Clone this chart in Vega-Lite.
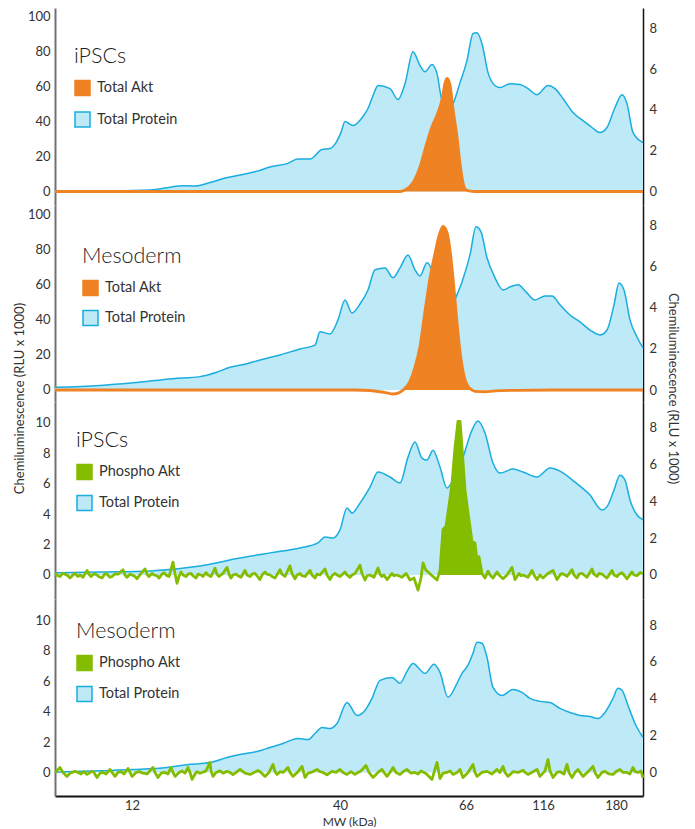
{
  "$schema": "https://vega.github.io/schema/vega-lite/v6.json",
  "background": "white",
  "padding": {"left": 13, "top": 8, "right": 5, "bottom": 0},
  "config": {
    "font": "Lato",
    "view": {"stroke": null},
    "axis": {"grid": false, "ticks": false, "labelFont": "Lato", "labelFontSize": 13, "labelColor": "#333333", "titleFont": "Lato", "titleFontSize": 13, "titleFontWeight": "normal", "titleColor": "#333333"},
    "legend": {"padding": 0, "labelFont": "Lato", "labelFontSize": 14.5, "labelColor": "#333333", "titleFont": "Lato", "titleFontSize": 21.5, "titleFontWeight": 300, "titleColor": "#222222", "titlePadding": 12, "rowPadding": 10, "labelOffset": 6, "labelLimit": 300, "titleLimit": 300}
  },
  "datasets": {
    "protein_ipsc_total": [
      {"mig": 0, "rlu": 0.03}, {"mig": 45, "rlu": 0.03}, {"mig": 95, "rlu": 0.08}, {"mig": 115, "rlu": 0.21}, {"mig": 127, "rlu": 0.29}, {"mig": 140, "rlu": 0.27}, {"mig": 155, "rlu": 0.44}, {"mig": 170, "rlu": 0.66}, {"mig": 185, "rlu": 0.81}, {"mig": 202, "rlu": 1.0}, {"mig": 215, "rlu": 1.2}, {"mig": 232, "rlu": 1.37}, {"mig": 243, "rlu": 1.59}, {"mig": 255, "rlu": 1.59}, {"mig": 267, "rlu": 2.06}, {"mig": 275, "rlu": 2.11}, {"mig": 281, "rlu": 2.4}, {"mig": 286, "rlu": 2.9}, {"mig": 290, "rlu": 3.43}, {"mig": 298, "rlu": 3.24}, {"mig": 308, "rlu": 3.68}, {"mig": 313, "rlu": 4.07}, {"mig": 318, "rlu": 4.7}, {"mig": 323, "rlu": 5.2}, {"mig": 335, "rlu": 5.05}, {"mig": 343, "rlu": 4.51}, {"mig": 350, "rlu": 5.29}, {"mig": 358, "rlu": 6.86}, {"mig": 365, "rlu": 6.18}, {"mig": 370, "rlu": 5.88}, {"mig": 377, "rlu": 6.23}, {"mig": 382, "rlu": 5.78}, {"mig": 387, "rlu": 4.46}, {"mig": 393, "rlu": 4.07}, {"mig": 398, "rlu": 4.31}, {"mig": 405, "rlu": 5.34}, {"mig": 412, "rlu": 6.42}, {"mig": 418, "rlu": 7.75}, {"mig": 422, "rlu": 7.79}, {"mig": 427, "rlu": 7.25}, {"mig": 433, "rlu": 5.83}, {"mig": 440, "rlu": 5.2}, {"mig": 445, "rlu": 5.1}, {"mig": 455, "rlu": 5.29}, {"mig": 465, "rlu": 5.25}, {"mig": 473, "rlu": 5.05}, {"mig": 482, "rlu": 4.75}, {"mig": 493, "rlu": 5.2}, {"mig": 500, "rlu": 5.05}, {"mig": 508, "rlu": 4.56}, {"mig": 518, "rlu": 3.87}, {"mig": 528, "rlu": 3.48}, {"mig": 537, "rlu": 3.14}, {"mig": 545, "rlu": 2.89}, {"mig": 552, "rlu": 3.14}, {"mig": 560, "rlu": 4.12}, {"mig": 567, "rlu": 4.75}, {"mig": 572, "rlu": 4.31}, {"mig": 578, "rlu": 2.89}, {"mig": 588, "rlu": 2.4}
    ],
    "akt_ipsc": [
      {"mig": 0, "rlu": 0}, {"mig": 60, "rlu": 0}, {"mig": 120, "rlu": 0}, {"mig": 180, "rlu": 0}, {"mig": 240, "rlu": 0}, {"mig": 300, "rlu": 0}, {"mig": 345, "rlu": 0}, {"mig": 350, "rlu": 0.8}, {"mig": 358, "rlu": 5}, {"mig": 365, "rlu": 14}, {"mig": 372, "rlu": 28}, {"mig": 377, "rlu": 37}, {"mig": 383, "rlu": 45}, {"mig": 387, "rlu": 52.6}, {"mig": 390, "rlu": 62}, {"mig": 392, "rlu": 64.6}, {"mig": 395, "rlu": 61}, {"mig": 398, "rlu": 47}, {"mig": 402, "rlu": 31.4}, {"mig": 405, "rlu": 16}, {"mig": 408, "rlu": 5}, {"mig": 410, "rlu": 1.5}, {"mig": 414, "rlu": 0.3}, {"mig": 420, "rlu": 0}, {"mig": 480, "rlu": 0}, {"mig": 540, "rlu": 0}, {"mig": 588, "rlu": 0}
    ],
    "protein_meso_total": [
      {"mig": 0, "rlu": 0.13}, {"mig": 45, "rlu": 0.22}, {"mig": 78, "rlu": 0.35}, {"mig": 118, "rlu": 0.55}, {"mig": 145, "rlu": 0.65}, {"mig": 162, "rlu": 0.87}, {"mig": 175, "rlu": 1.1}, {"mig": 190, "rlu": 1.25}, {"mig": 205, "rlu": 1.46}, {"mig": 225, "rlu": 1.7}, {"mig": 245, "rlu": 1.99}, {"mig": 260, "rlu": 2.18}, {"mig": 265, "rlu": 2.82}, {"mig": 275, "rlu": 2.72}, {"mig": 283, "rlu": 3.4}, {"mig": 290, "rlu": 4.37}, {"mig": 297, "rlu": 3.74}, {"mig": 305, "rlu": 4.17}, {"mig": 313, "rlu": 4.85}, {"mig": 320, "rlu": 5.83}, {"mig": 330, "rlu": 5.92}, {"mig": 338, "rlu": 5.44}, {"mig": 345, "rlu": 5.92}, {"mig": 353, "rlu": 6.55}, {"mig": 360, "rlu": 5.83}, {"mig": 365, "rlu": 5.53}, {"mig": 372, "rlu": 6.17}, {"mig": 377, "rlu": 5.73}, {"mig": 382, "rlu": 4.37}, {"mig": 387, "rlu": 3.59}, {"mig": 393, "rlu": 3.4}, {"mig": 400, "rlu": 4.37}, {"mig": 407, "rlu": 5.24}, {"mig": 415, "rlu": 6.55}, {"mig": 421, "rlu": 7.91}, {"mig": 426, "rlu": 7.67}, {"mig": 432, "rlu": 6.41}, {"mig": 440, "rlu": 5.44}, {"mig": 448, "rlu": 4.85}, {"mig": 455, "rlu": 5.0}, {"mig": 463, "rlu": 5.1}, {"mig": 471, "rlu": 4.76}, {"mig": 480, "rlu": 4.37}, {"mig": 490, "rlu": 4.56}, {"mig": 497, "rlu": 4.56}, {"mig": 505, "rlu": 4.13}, {"mig": 515, "rlu": 3.64}, {"mig": 525, "rlu": 3.3}, {"mig": 535, "rlu": 2.91}, {"mig": 545, "rlu": 2.67}, {"mig": 552, "rlu": 2.91}, {"mig": 559, "rlu": 4.13}, {"mig": 564, "rlu": 5.19}, {"mig": 569, "rlu": 4.85}, {"mig": 575, "rlu": 3.4}, {"mig": 582, "rlu": 2.57}, {"mig": 588, "rlu": 2.04}
    ],
    "akt_meso": [
      {"mig": 0, "rlu": 0}, {"mig": 60, "rlu": 0}, {"mig": 120, "rlu": 0}, {"mig": 180, "rlu": 0}, {"mig": 240, "rlu": 0}, {"mig": 300, "rlu": 0}, {"mig": 315, "rlu": -0.3}, {"mig": 325, "rlu": -1.0}, {"mig": 333, "rlu": -1.8}, {"mig": 338, "rlu": -2.3}, {"mig": 343, "rlu": -1.8}, {"mig": 347, "rlu": -0.5}, {"mig": 350, "rlu": 1}, {"mig": 355, "rlu": 5}, {"mig": 360, "rlu": 13}, {"mig": 365, "rlu": 25}, {"mig": 370, "rlu": 45}, {"mig": 375, "rlu": 64}, {"mig": 380, "rlu": 78}, {"mig": 384, "rlu": 88}, {"mig": 388, "rlu": 93.5}, {"mig": 392, "rlu": 90}, {"mig": 395, "rlu": 80}, {"mig": 398, "rlu": 64}, {"mig": 401, "rlu": 45}, {"mig": 404, "rlu": 27}, {"mig": 407, "rlu": 14}, {"mig": 410, "rlu": 6}, {"mig": 413, "rlu": 2}, {"mig": 417, "rlu": 0}, {"mig": 420, "rlu": -0.8}, {"mig": 430, "rlu": -1.0}, {"mig": 440, "rlu": -0.5}, {"mig": 460, "rlu": -0.2}, {"mig": 500, "rlu": 0}, {"mig": 550, "rlu": 0}, {"mig": 588, "rlu": 0}
    ],
    "protein_ipsc_phospho": [
      {"mig": 0, "rlu": 0.11}, {"mig": 45, "rlu": 0.16}, {"mig": 95, "rlu": 0.22}, {"mig": 145, "rlu": 0.49}, {"mig": 185, "rlu": 0.92}, {"mig": 215, "rlu": 1.2}, {"mig": 245, "rlu": 1.47}, {"mig": 263, "rlu": 1.74}, {"mig": 270, "rlu": 2.07}, {"mig": 278, "rlu": 2.01}, {"mig": 285, "rlu": 2.45}, {"mig": 292, "rlu": 3.64}, {"mig": 297, "rlu": 3.37}, {"mig": 305, "rlu": 3.91}, {"mig": 315, "rlu": 4.78}, {"mig": 323, "rlu": 5.6}, {"mig": 335, "rlu": 5.33}, {"mig": 345, "rlu": 5.0}, {"mig": 353, "rlu": 6.41}, {"mig": 360, "rlu": 7.23}, {"mig": 367, "rlu": 6.36}, {"mig": 372, "rlu": 6.25}, {"mig": 378, "rlu": 6.79}, {"mig": 385, "rlu": 5.87}, {"mig": 392, "rlu": 4.73}, {"mig": 398, "rlu": 5.16}, {"mig": 408, "rlu": 6.41}, {"mig": 417, "rlu": 7.88}, {"mig": 423, "rlu": 8.37}, {"mig": 430, "rlu": 7.72}, {"mig": 438, "rlu": 6.09}, {"mig": 445, "rlu": 5.54}, {"mig": 458, "rlu": 5.76}, {"mig": 468, "rlu": 5.6}, {"mig": 482, "rlu": 5.33}, {"mig": 495, "rlu": 5.82}, {"mig": 505, "rlu": 5.65}, {"mig": 520, "rlu": 5.05}, {"mig": 535, "rlu": 4.35}, {"mig": 547, "rlu": 3.53}, {"mig": 553, "rlu": 3.8}, {"mig": 559, "rlu": 4.62}, {"mig": 565, "rlu": 5.43}, {"mig": 570, "rlu": 5.16}, {"mig": 575, "rlu": 4.08}, {"mig": 582, "rlu": 3.26}, {"mig": 588, "rlu": 3.0}
    ],
    "pakt_ipsc": [
      {"mig": 0, "rlu": 0.1}, {"mig": 3, "rlu": -0.05}, {"mig": 5, "rlu": -0.1}, {"mig": 8, "rlu": 0.12}, {"mig": 10, "rlu": 0.05}, {"mig": 13, "rlu": -0.05}, {"mig": 15, "rlu": -0.2}, {"mig": 18, "rlu": 0.0}, {"mig": 20, "rlu": 0.1}, {"mig": 23, "rlu": -0.1}, {"mig": 25, "rlu": 0.0}, {"mig": 28, "rlu": -0.15}, {"mig": 32, "rlu": 0.3}, {"mig": 34, "rlu": 0.05}, {"mig": 36, "rlu": -0.1}, {"mig": 39, "rlu": 0.08}, {"mig": 42, "rlu": 0.0}, {"mig": 44, "rlu": -0.12}, {"mig": 47, "rlu": -0.2}, {"mig": 50, "rlu": 0.1}, {"mig": 52, "rlu": 0.05}, {"mig": 55, "rlu": -0.15}, {"mig": 57, "rlu": -0.1}, {"mig": 60, "rlu": 0.08}, {"mig": 63, "rlu": 0.05}, {"mig": 68, "rlu": 0.35}, {"mig": 70, "rlu": 0.0}, {"mig": 72, "rlu": -0.15}, {"mig": 75, "rlu": 0.05}, {"mig": 77, "rlu": 0.0}, {"mig": 80, "rlu": -0.1}, {"mig": 82, "rlu": -0.25}, {"mig": 86, "rlu": 0.1}, {"mig": 90, "rlu": 0.4}, {"mig": 92, "rlu": 0.05}, {"mig": 94, "rlu": -0.1}, {"mig": 97, "rlu": 0.1}, {"mig": 99, "rlu": 0.0}, {"mig": 102, "rlu": -0.05}, {"mig": 104, "rlu": -0.2}, {"mig": 107, "rlu": 0.05}, {"mig": 109, "rlu": 0.15}, {"mig": 112, "rlu": -0.05}, {"mig": 114, "rlu": -0.1}, {"mig": 118, "rlu": 0.85}, {"mig": 120, "rlu": 0.1}, {"mig": 122, "rlu": -0.55}, {"mig": 124, "rlu": -0.1}, {"mig": 126, "rlu": 0.2}, {"mig": 128, "rlu": 0.0}, {"mig": 131, "rlu": -0.1}, {"mig": 133, "rlu": 0.05}, {"mig": 136, "rlu": 0.1}, {"mig": 138, "rlu": -0.05}, {"mig": 141, "rlu": -0.2}, {"mig": 143, "rlu": 0.05}, {"mig": 146, "rlu": 0.0}, {"mig": 148, "rlu": -0.1}, {"mig": 151, "rlu": 0.15}, {"mig": 153, "rlu": 0.0}, {"mig": 156, "rlu": -0.1}, {"mig": 160, "rlu": 0.45}, {"mig": 162, "rlu": 0.05}, {"mig": 164, "rlu": -0.1}, {"mig": 166, "rlu": 0.0}, {"mig": 168, "rlu": 0.1}, {"mig": 172, "rlu": 0.5}, {"mig": 174, "rlu": 0.05}, {"mig": 176, "rlu": -0.2}, {"mig": 178, "rlu": 0.0}, {"mig": 181, "rlu": 0.05}, {"mig": 183, "rlu": -0.05}, {"mig": 186, "rlu": -0.15}, {"mig": 190, "rlu": 0.3}, {"mig": 192, "rlu": 0.0}, {"mig": 195, "rlu": -0.1}, {"mig": 197, "rlu": 0.05}, {"mig": 200, "rlu": 0.1}, {"mig": 202, "rlu": -0.05}, {"mig": 205, "rlu": -0.3}, {"mig": 207, "rlu": 0.0}, {"mig": 210, "rlu": 0.2}, {"mig": 212, "rlu": 0.05}, {"mig": 215, "rlu": 0.0}, {"mig": 217, "rlu": -0.1}, {"mig": 220, "rlu": -0.2}, {"mig": 225, "rlu": 0.35}, {"mig": 227, "rlu": 0.05}, {"mig": 230, "rlu": -0.1}, {"mig": 235, "rlu": 0.6}, {"mig": 237, "rlu": 0.1}, {"mig": 240, "rlu": -0.25}, {"mig": 242, "rlu": 0.0}, {"mig": 245, "rlu": 0.1}, {"mig": 247, "rlu": -0.05}, {"mig": 250, "rlu": -0.1}, {"mig": 255, "rlu": 0.3}, {"mig": 257, "rlu": 0.0}, {"mig": 260, "rlu": -0.2}, {"mig": 262, "rlu": 0.05}, {"mig": 265, "rlu": 0.0}, {"mig": 270, "rlu": 0.4}, {"mig": 272, "rlu": 0.0}, {"mig": 275, "rlu": -0.3}, {"mig": 277, "rlu": -0.05}, {"mig": 280, "rlu": 0.1}, {"mig": 282, "rlu": 0.0}, {"mig": 285, "rlu": -0.1}, {"mig": 290, "rlu": 0.2}, {"mig": 292, "rlu": 0.0}, {"mig": 295, "rlu": -0.15}, {"mig": 297, "rlu": 0.0}, {"mig": 300, "rlu": 0.1}, {"mig": 305, "rlu": 0.65}, {"mig": 307, "rlu": 0.1}, {"mig": 310, "rlu": -0.33}, {"mig": 312, "rlu": -0.05}, {"mig": 315, "rlu": 0.0}, {"mig": 319, "rlu": -0.15}, {"mig": 323, "rlu": 0.46}, {"mig": 325, "rlu": 0.05}, {"mig": 327, "rlu": -0.1}, {"mig": 329, "rlu": 0.0}, {"mig": 332, "rlu": -0.3}, {"mig": 337, "rlu": 0.1}, {"mig": 339, "rlu": -0.05}, {"mig": 342, "rlu": 0.0}, {"mig": 347, "rlu": -0.15}, {"mig": 351, "rlu": 0.1}, {"mig": 353, "rlu": -0.1}, {"mig": 355, "rlu": -0.33}, {"mig": 359, "rlu": -0.2}, {"mig": 363, "rlu": -1.0}, {"mig": 366, "rlu": -0.2}, {"mig": 368, "rlu": 0.8}, {"mig": 371, "rlu": 0.3}, {"mig": 373, "rlu": 0.2}, {"mig": 378, "rlu": -0.1}, {"mig": 382, "rlu": -0.33}, {"mig": 385, "rlu": 0.3}, {"mig": 388, "rlu": 3.0}, {"mig": 391, "rlu": 3.2}, {"mig": 393, "rlu": 4.1}, {"mig": 397, "rlu": 6.0}, {"mig": 400, "rlu": 8.4}, {"mig": 403, "rlu": 10.1}, {"mig": 405, "rlu": 10.1}, {"mig": 407, "rlu": 8.4}, {"mig": 410, "rlu": 5.6}, {"mig": 413, "rlu": 4.1}, {"mig": 417, "rlu": 2.2}, {"mig": 420, "rlu": 2.1}, {"mig": 422, "rlu": 1.0}, {"mig": 424, "rlu": 1.2}, {"mig": 427, "rlu": 0.1}, {"mig": 430, "rlu": -0.2}, {"mig": 433, "rlu": 0.25}, {"mig": 435, "rlu": 0.0}, {"mig": 438, "rlu": -0.2}, {"mig": 442, "rlu": 0.2}, {"mig": 444, "rlu": 0.0}, {"mig": 448, "rlu": -0.25}, {"mig": 452, "rlu": 0.0}, {"mig": 457, "rlu": 0.5}, {"mig": 460, "rlu": -0.3}, {"mig": 464, "rlu": 0.1}, {"mig": 466, "rlu": -0.05}, {"mig": 468, "rlu": 0.0}, {"mig": 473, "rlu": -0.15}, {"mig": 477, "rlu": 0.3}, {"mig": 479, "rlu": 0.0}, {"mig": 482, "rlu": -0.3}, {"mig": 485, "rlu": 0.0}, {"mig": 488, "rlu": -0.2}, {"mig": 493, "rlu": 0.1}, {"mig": 498, "rlu": 0.3}, {"mig": 500, "rlu": 0.0}, {"mig": 502, "rlu": -0.3}, {"mig": 505, "rlu": 0.0}, {"mig": 507, "rlu": 0.1}, {"mig": 510, "rlu": 0.0}, {"mig": 512, "rlu": -0.1}, {"mig": 517, "rlu": 0.35}, {"mig": 519, "rlu": 0.0}, {"mig": 522, "rlu": -0.2}, {"mig": 524, "rlu": 0.05}, {"mig": 527, "rlu": 0.1}, {"mig": 530, "rlu": -0.05}, {"mig": 532, "rlu": -0.15}, {"mig": 537, "rlu": 0.4}, {"mig": 539, "rlu": 0.05}, {"mig": 542, "rlu": -0.1}, {"mig": 544, "rlu": 0.1}, {"mig": 547, "rlu": 0.05}, {"mig": 549, "rlu": -0.05}, {"mig": 552, "rlu": -0.2}, {"mig": 557, "rlu": 0.3}, {"mig": 559, "rlu": 0.0}, {"mig": 562, "rlu": -0.1}, {"mig": 564, "rlu": 0.05}, {"mig": 567, "rlu": 0.15}, {"mig": 569, "rlu": 0.0}, {"mig": 572, "rlu": -0.25}, {"mig": 577, "rlu": 0.2}, {"mig": 579, "rlu": 0.0}, {"mig": 582, "rlu": -0.05}, {"mig": 585, "rlu": 0.15}, {"mig": 588, "rlu": 0.1}
    ],
    "protein_meso_phospho": [
      {"mig": 0, "rlu": 0.02}, {"mig": 45, "rlu": 0.1}, {"mig": 78, "rlu": 0.16}, {"mig": 112, "rlu": 0.27}, {"mig": 132, "rlu": 0.43}, {"mig": 155, "rlu": 0.54}, {"mig": 172, "rlu": 0.82}, {"mig": 185, "rlu": 0.98}, {"mig": 202, "rlu": 1.14}, {"mig": 215, "rlu": 1.36}, {"mig": 228, "rlu": 1.58}, {"mig": 243, "rlu": 1.85}, {"mig": 253, "rlu": 1.79}, {"mig": 260, "rlu": 2.12}, {"mig": 267, "rlu": 2.45}, {"mig": 275, "rlu": 2.39}, {"mig": 282, "rlu": 2.66}, {"mig": 292, "rlu": 3.8}, {"mig": 302, "rlu": 3.1}, {"mig": 310, "rlu": 3.37}, {"mig": 317, "rlu": 4.02}, {"mig": 325, "rlu": 5.0}, {"mig": 337, "rlu": 5.16}, {"mig": 345, "rlu": 4.84}, {"mig": 352, "rlu": 5.49}, {"mig": 358, "rlu": 5.92}, {"mig": 370, "rlu": 5.38}, {"mig": 379, "rlu": 5.87}, {"mig": 385, "rlu": 5.43}, {"mig": 393, "rlu": 4.08}, {"mig": 402, "rlu": 4.84}, {"mig": 407, "rlu": 5.38}, {"mig": 413, "rlu": 5.82}, {"mig": 418, "rlu": 6.47}, {"mig": 422, "rlu": 7.07}, {"mig": 427, "rlu": 7.01}, {"mig": 432, "rlu": 6.25}, {"mig": 438, "rlu": 4.62}, {"mig": 447, "rlu": 4.18}, {"mig": 458, "rlu": 4.51}, {"mig": 467, "rlu": 4.35}, {"mig": 475, "rlu": 4.02}, {"mig": 485, "rlu": 3.86}, {"mig": 495, "rlu": 3.8}, {"mig": 505, "rlu": 3.48}, {"mig": 515, "rlu": 3.26}, {"mig": 525, "rlu": 3.1}, {"mig": 535, "rlu": 3.04}, {"mig": 543, "rlu": 2.93}, {"mig": 550, "rlu": 3.26}, {"mig": 558, "rlu": 4.02}, {"mig": 563, "rlu": 4.57}, {"mig": 567, "rlu": 4.46}, {"mig": 573, "rlu": 3.64}, {"mig": 580, "rlu": 2.66}, {"mig": 588, "rlu": 1.9}
    ],
    "pakt_meso": [
      {"mig": 0, "rlu": 0.0}, {"mig": 5, "rlu": 0.33}, {"mig": 8, "rlu": 0.0}, {"mig": 12, "rlu": -0.26}, {"mig": 15, "rlu": -0.05}, {"mig": 20, "rlu": 0.07}, {"mig": 23, "rlu": 0.0}, {"mig": 26, "rlu": -0.1}, {"mig": 29, "rlu": 0.05}, {"mig": 32, "rlu": -0.13}, {"mig": 37, "rlu": 0.07}, {"mig": 39, "rlu": 0.0}, {"mig": 42, "rlu": -0.33}, {"mig": 45, "rlu": -0.05}, {"mig": 48, "rlu": 0.0}, {"mig": 51, "rlu": -0.1}, {"mig": 55, "rlu": 0.2}, {"mig": 57, "rlu": 0.0}, {"mig": 60, "rlu": -0.26}, {"mig": 63, "rlu": 0.0}, {"mig": 66, "rlu": 0.05}, {"mig": 69, "rlu": -0.1}, {"mig": 73, "rlu": 0.26}, {"mig": 75, "rlu": 0.0}, {"mig": 77, "rlu": -0.26}, {"mig": 81, "rlu": 0.0}, {"mig": 85, "rlu": 0.05}, {"mig": 88, "rlu": -0.05}, {"mig": 92, "rlu": -0.1}, {"mig": 98, "rlu": 0.33}, {"mig": 100, "rlu": 0.0}, {"mig": 103, "rlu": -0.33}, {"mig": 106, "rlu": -0.05}, {"mig": 110, "rlu": 0.0}, {"mig": 113, "rlu": -0.1}, {"mig": 116, "rlu": 0.33}, {"mig": 118, "rlu": 0.0}, {"mig": 120, "rlu": -0.26}, {"mig": 124, "rlu": 0.0}, {"mig": 127, "rlu": 0.1}, {"mig": 130, "rlu": -0.05}, {"mig": 133, "rlu": 0.33}, {"mig": 135, "rlu": 0.0}, {"mig": 137, "rlu": -0.46}, {"mig": 140, "rlu": -0.1}, {"mig": 142, "rlu": 0.05}, {"mig": 145, "rlu": -0.05}, {"mig": 147, "rlu": 0.0}, {"mig": 151, "rlu": 0.1}, {"mig": 155, "rlu": 0.66}, {"mig": 156, "rlu": 0.1}, {"mig": 158, "rlu": -0.26}, {"mig": 161, "rlu": 0.0}, {"mig": 165, "rlu": 0.1}, {"mig": 168, "rlu": -0.05}, {"mig": 172, "rlu": 0.07}, {"mig": 175, "rlu": 0.0}, {"mig": 178, "rlu": -0.15}, {"mig": 182, "rlu": 0.05}, {"mig": 185, "rlu": 0.2}, {"mig": 190, "rlu": -0.05}, {"mig": 195, "rlu": -0.13}, {"mig": 199, "rlu": 0.0}, {"mig": 203, "rlu": 0.13}, {"mig": 206, "rlu": 0.0}, {"mig": 210, "rlu": -0.26}, {"mig": 214, "rlu": 0.0}, {"mig": 218, "rlu": 0.53}, {"mig": 220, "rlu": 0.05}, {"mig": 222, "rlu": -0.13}, {"mig": 225, "rlu": 0.05}, {"mig": 228, "rlu": 0.0}, {"mig": 233, "rlu": 0.33}, {"mig": 235, "rlu": 0.0}, {"mig": 238, "rlu": -0.26}, {"mig": 243, "rlu": 0.05}, {"mig": 247, "rlu": 0.4}, {"mig": 250, "rlu": -0.33}, {"mig": 253, "rlu": -0.05}, {"mig": 256, "rlu": 0.0}, {"mig": 262, "rlu": 0.2}, {"mig": 265, "rlu": 0.05}, {"mig": 268, "rlu": 0.0}, {"mig": 272, "rlu": -0.15}, {"mig": 277, "rlu": 0.07}, {"mig": 281, "rlu": 0.0}, {"mig": 285, "rlu": 0.2}, {"mig": 288, "rlu": 0.0}, {"mig": 292, "rlu": -0.13}, {"mig": 296, "rlu": 0.05}, {"mig": 300, "rlu": -0.13}, {"mig": 303, "rlu": 0.0}, {"mig": 306, "rlu": 0.1}, {"mig": 311, "rlu": 0.46}, {"mig": 314, "rlu": 0.0}, {"mig": 318, "rlu": -0.33}, {"mig": 323, "rlu": 0.0}, {"mig": 327, "rlu": 0.2}, {"mig": 329, "rlu": 0.0}, {"mig": 332, "rlu": -0.26}, {"mig": 335, "rlu": 0.0}, {"mig": 338, "rlu": 0.33}, {"mig": 341, "rlu": 0.0}, {"mig": 345, "rlu": -0.13}, {"mig": 348, "rlu": 0.05}, {"mig": 352, "rlu": 0.2}, {"mig": 356, "rlu": -0.05}, {"mig": 360, "rlu": 0.0}, {"mig": 363, "rlu": -0.1}, {"mig": 366, "rlu": 0.1}, {"mig": 369, "rlu": 0.0}, {"mig": 372, "rlu": -0.13}, {"mig": 377, "rlu": -0.46}, {"mig": 382, "rlu": 0.66}, {"mig": 385, "rlu": -0.4}, {"mig": 388, "rlu": -0.05}, {"mig": 392, "rlu": 0.0}, {"mig": 395, "rlu": 0.1}, {"mig": 398, "rlu": -0.13}, {"mig": 402, "rlu": 0.0}, {"mig": 405, "rlu": 0.2}, {"mig": 408, "rlu": -0.33}, {"mig": 413, "rlu": 0.0}, {"mig": 418, "rlu": 0.53}, {"mig": 420, "rlu": 0.0}, {"mig": 422, "rlu": -0.26}, {"mig": 427, "rlu": 0.0}, {"mig": 432, "rlu": 0.07}, {"mig": 437, "rlu": -0.1}, {"mig": 442, "rlu": 0.2}, {"mig": 445, "rlu": 0.0}, {"mig": 448, "rlu": 0.4}, {"mig": 450, "rlu": 0.0}, {"mig": 453, "rlu": -0.26}, {"mig": 458, "rlu": 0.05}, {"mig": 463, "rlu": 0.0}, {"mig": 468, "rlu": 0.15}, {"mig": 470, "rlu": 0.0}, {"mig": 473, "rlu": -0.13}, {"mig": 478, "rlu": 0.05}, {"mig": 482, "rlu": 0.2}, {"mig": 485, "rlu": -0.26}, {"mig": 490, "rlu": 0.1}, {"mig": 493, "rlu": 0.85}, {"mig": 495, "rlu": 0.1}, {"mig": 498, "rlu": -0.33}, {"mig": 502, "rlu": 0.0}, {"mig": 505, "rlu": 0.05}, {"mig": 509, "rlu": -0.1}, {"mig": 512, "rlu": 0.53}, {"mig": 514, "rlu": 0.0}, {"mig": 517, "rlu": -0.33}, {"mig": 520, "rlu": 0.0}, {"mig": 523, "rlu": 0.2}, {"mig": 525, "rlu": 0.0}, {"mig": 528, "rlu": -0.26}, {"mig": 533, "rlu": 0.05}, {"mig": 538, "rlu": 0.4}, {"mig": 540, "rlu": 0.0}, {"mig": 543, "rlu": -0.33}, {"mig": 547, "rlu": 0.0}, {"mig": 550, "rlu": 0.07}, {"mig": 554, "rlu": -0.1}, {"mig": 558, "rlu": -0.13}, {"mig": 562, "rlu": 0.1}, {"mig": 565, "rlu": 0.2}, {"mig": 568, "rlu": 0.0}, {"mig": 572, "rlu": 0.0}, {"mig": 575, "rlu": -0.1}, {"mig": 578, "rlu": 0.33}, {"mig": 580, "rlu": 0.05}, {"mig": 583, "rlu": 0.0}, {"mig": 586, "rlu": 0.1}, {"mig": 588, "rlu": -0.35}
    ]
  },
  "spacing": 0,
  "bounds": "flush",
  "resolve": {"scale": {"fill": "independent", "stroke": "independent"}, "legend": {"fill": "independent", "stroke": "independent"}},
  "vconcat": [
    {
      "width": 588, "height": 197,
      "layer": [
        {
          "data": {"name": "protein_ipsc_total"},
          "layer": [
            {"mark": {"type": "area", "interpolate": "monotone"},
             "encoding": {
               "x": {"field": "mig", "type": "quantitative", "scale": {"domain": [0, 588], "nice": false, "zero": false}, "axis": null},
               "y": {"field": "rlu", "type": "quantitative", "scale": {"domain": [-0.66, 9.0], "nice": false, "zero": false}, "axis": {"orient": "right", "values": [0, 2, 4, 6, 8], "title": null, "domainColor": "#111111", "domainWidth": 1.5, "labelPadding": 6}},
               "fill": {"datum": "Total Protein", "type": "nominal", "scale": {"domain": ["Total Akt", "Total Protein"], "range": ["#EF8223", "#BEE9F6"]}, "legend": {"title": "iPSCs", "orient": "none", "legendX": 19, "legendY": 38, "rowPadding": 10.5, "symbolType": "square", "symbolSize": 225, "symbolStrokeWidth": 1.5}}
             }},
            {"mark": {"type": "line", "interpolate": "monotone", "strokeWidth": 1.5},
             "encoding": {
               "x": {"field": "mig", "type": "quantitative", "scale": {"domain": [0, 588], "nice": false, "zero": false}, "axis": null},
               "y": {"field": "rlu", "type": "quantitative", "scale": {"domain": [-0.66, 9.0], "nice": false, "zero": false}, "axis": {"orient": "right", "values": [0, 2, 4, 6, 8], "title": null, "domainColor": "#111111", "domainWidth": 1.5, "labelPadding": 6}},
               "stroke": {"datum": "Total Protein", "type": "nominal", "scale": {"domain": ["Total Akt", "Total Protein"], "range": ["#EF8223", "#1AADE0"]}, "legend": {"title": "iPSCs", "orient": "none", "legendX": 19, "legendY": 38, "rowPadding": 10.5, "symbolType": "square", "symbolSize": 225, "symbolStrokeWidth": 1.5}}
             }}
          ]
        },
        {
          "data": {"name": "akt_ipsc"},
          "layer": [
            {"transform": [{"filter": "datum.mig >= 345 && datum.mig <= 414"}],
             "mark": {"type": "area", "interpolate": "monotone"},
             "encoding": {
               "x": {"field": "mig", "type": "quantitative", "scale": {"domain": [0, 588], "nice": false, "zero": false}, "axis": null},
               "y": {"field": "rlu", "type": "quantitative", "scale": {"domain": [-7.71, 104.9], "nice": false, "zero": false}, "axis": {"orient": "left", "values": [0, 20, 40, 60, 80, 100], "title": null, "domainColor": "#707070", "domainWidth": 2, "labelPadding": 5}},
               "fill": {"datum": "Total Akt", "type": "nominal", "scale": {"domain": ["Total Akt", "Total Protein"], "range": ["#EF8223", "#BEE9F6"]}, "legend": {"title": "iPSCs", "orient": "none", "legendX": 19, "legendY": 38, "rowPadding": 10.5, "symbolType": "square", "symbolSize": 225, "symbolStrokeWidth": 1.5}}
             }},
            {"mark": {"type": "line", "interpolate": "monotone", "strokeWidth": 2.8},
             "encoding": {
               "x": {"field": "mig", "type": "quantitative", "scale": {"domain": [0, 588], "nice": false, "zero": false}, "axis": null},
               "y": {"field": "rlu", "type": "quantitative", "scale": {"domain": [-7.71, 104.9], "nice": false, "zero": false}, "axis": {"orient": "left", "values": [0, 20, 40, 60, 80, 100], "title": null, "domainColor": "#707070", "domainWidth": 2, "labelPadding": 5}},
               "stroke": {"datum": "Total Akt", "type": "nominal", "scale": {"domain": ["Total Akt", "Total Protein"], "range": ["#EF8223", "#1AADE0"]}, "legend": {"title": "iPSCs", "orient": "none", "legendX": 19, "legendY": 38, "rowPadding": 10.5, "symbolType": "square", "symbolSize": 225, "symbolStrokeWidth": 1.5}}
             }}
          ]
        }
      ],
      "resolve": {"scale": {"y": "independent"}}
    },
    {
      "width": 588, "height": 197,
      "layer": [
        {
          "data": {"name": "protein_meso_total"},
          "layer": [
            {"mark": {"type": "area", "interpolate": "monotone"},
             "encoding": {
               "x": {"field": "mig", "type": "quantitative", "scale": {"domain": [0, 588], "nice": false, "zero": false}, "axis": null},
               "y": {"field": "rlu", "type": "quantitative", "scale": {"domain": [-0.58, 8.97], "nice": false, "zero": false}, "axis": {"orient": "right", "values": [0, 2, 4, 6, 8], "title": "Chemiluminescence (RLU x 1000)", "titleAngle": 90, "titleBaseline": "bottom", "titleAlign": "center", "titleX": 22.5, "titleY": 183, "domainColor": "#111111", "domainWidth": 1.5, "labelPadding": 6}},
               "fill": {"datum": "Total Protein", "type": "nominal", "scale": {"domain": ["Total Akt", "Total Protein"], "range": ["#EF8223", "#BEE9F6"]}, "legend": {"title": "Mesoderm", "orient": "none", "legendX": 27, "legendY": 41, "rowPadding": 9, "symbolType": "square", "symbolSize": 225, "symbolStrokeWidth": 1.5}}
             }},
            {"mark": {"type": "line", "interpolate": "monotone", "strokeWidth": 1.5},
             "encoding": {
               "x": {"field": "mig", "type": "quantitative", "scale": {"domain": [0, 588], "nice": false, "zero": false}, "axis": null},
               "y": {"field": "rlu", "type": "quantitative", "scale": {"domain": [-0.58, 8.97], "nice": false, "zero": false}, "axis": {"orient": "right", "values": [0, 2, 4, 6, 8], "title": "Chemiluminescence (RLU x 1000)", "titleAngle": 90, "titleBaseline": "bottom", "titleAlign": "center", "titleX": 22.5, "titleY": 183, "domainColor": "#111111", "domainWidth": 1.5, "labelPadding": 6}},
               "stroke": {"datum": "Total Protein", "type": "nominal", "scale": {"domain": ["Total Akt", "Total Protein"], "range": ["#EF8223", "#1AADE0"]}, "legend": {"title": "Mesoderm", "orient": "none", "legendX": 27, "legendY": 41, "rowPadding": 9, "symbolType": "square", "symbolSize": 225, "symbolStrokeWidth": 1.5}}
             }}
          ]
        },
        {
          "data": {"name": "akt_meso"},
          "layer": [
            {"transform": [{"filter": "datum.mig >= 347 && datum.mig <= 417"}],
             "mark": {"type": "area", "interpolate": "monotone"},
             "encoding": {
               "x": {"field": "mig", "type": "quantitative", "scale": {"domain": [0, 588], "nice": false, "zero": false}, "axis": null},
               "y": {"field": "rlu", "type": "quantitative", "scale": {"domain": [-6.86, 105.7], "nice": false, "zero": false}, "axis": {"orient": "left", "values": [0, 20, 40, 60, 80, 100], "title": "Chemiluminescence (RLU x 1000)", "titleAngle": 270, "titleBaseline": "bottom", "titleAlign": "center", "titleX": -29, "titleY": 193, "domainColor": "#707070", "domainWidth": 2, "labelPadding": 5}},
               "fill": {"datum": "Total Akt", "type": "nominal", "scale": {"domain": ["Total Akt", "Total Protein"], "range": ["#EF8223", "#BEE9F6"]}, "legend": {"title": "Mesoderm", "orient": "none", "legendX": 27, "legendY": 41, "rowPadding": 9, "symbolType": "square", "symbolSize": 225, "symbolStrokeWidth": 1.5}}
             }},
            {"mark": {"type": "line", "interpolate": "monotone", "strokeWidth": 2.8},
             "encoding": {
               "x": {"field": "mig", "type": "quantitative", "scale": {"domain": [0, 588], "nice": false, "zero": false}, "axis": null},
               "y": {"field": "rlu", "type": "quantitative", "scale": {"domain": [-6.86, 105.7], "nice": false, "zero": false}, "axis": {"orient": "left", "values": [0, 20, 40, 60, 80, 100], "title": "Chemiluminescence (RLU x 1000)", "titleAngle": 270, "titleBaseline": "bottom", "titleAlign": "center", "titleX": -29, "titleY": 193, "domainColor": "#707070", "domainWidth": 2, "labelPadding": 5}},
               "stroke": {"datum": "Total Akt", "type": "nominal", "scale": {"domain": ["Total Akt", "Total Protein"], "range": ["#EF8223", "#1AADE0"]}, "legend": {"title": "Mesoderm", "orient": "none", "legendX": 27, "legendY": 41, "rowPadding": 9, "symbolType": "square", "symbolSize": 225, "symbolStrokeWidth": 1.5}}
             }}
          ]
        }
      ],
      "resolve": {"scale": {"y": "independent"}}
    },
    {
      "width": 588, "height": 197,
      "layer": [
        {
          "data": {"name": "protein_ipsc_phospho"},
          "layer": [
            {"mark": {"type": "area", "interpolate": "monotone"},
             "encoding": {
               "x": {"field": "mig", "type": "quantitative", "scale": {"domain": [0, 588], "nice": false, "zero": false}, "axis": null},
               "y": {"field": "rlu", "type": "quantitative", "scale": {"domain": [-1.31, 9.41], "nice": false, "zero": false}, "axis": {"orient": "right", "values": [0, 2, 4, 6, 8], "title": null, "domainColor": "#111111", "domainWidth": 1.5, "labelPadding": 6}},
               "fill": {"datum": "Total Protein", "type": "nominal", "scale": {"domain": ["Phospho Akt", "Total Protein"], "range": ["#84BC00", "#BEE9F6"]}, "legend": {"title": "iPSCs", "orient": "none", "legendX": 21, "legendY": 28, "rowPadding": 10, "symbolType": "square", "symbolSize": 225, "symbolStrokeWidth": 1.5}}
             }},
            {"mark": {"type": "line", "interpolate": "monotone", "strokeWidth": 1.5},
             "encoding": {
               "x": {"field": "mig", "type": "quantitative", "scale": {"domain": [0, 588], "nice": false, "zero": false}, "axis": null},
               "y": {"field": "rlu", "type": "quantitative", "scale": {"domain": [-1.31, 9.41], "nice": false, "zero": false}, "axis": {"orient": "right", "values": [0, 2, 4, 6, 8], "title": null, "domainColor": "#111111", "domainWidth": 1.5, "labelPadding": 6}},
               "stroke": {"datum": "Total Protein", "type": "nominal", "scale": {"domain": ["Phospho Akt", "Total Protein"], "range": ["#84BC00", "#1AADE0"]}, "legend": {"title": "iPSCs", "orient": "none", "legendX": 21, "legendY": 28, "rowPadding": 10, "symbolType": "square", "symbolSize": 225, "symbolStrokeWidth": 1.5}}
             }}
          ]
        },
        {
          "data": {"name": "pakt_ipsc"},
          "layer": [
            {"transform": [{"filter": "datum.mig >= 385 && datum.mig <= 427"}],
             "mark": {"type": "area", "interpolate": "linear"},
             "encoding": {
               "x": {"field": "mig", "type": "quantitative", "scale": {"domain": [0, 588], "nice": false, "zero": false}, "axis": null},
               "y": {"field": "rlu", "type": "quantitative", "scale": {"domain": [-1.58, 11.38], "nice": false, "zero": false}, "axis": {"orient": "left", "values": [0, 2, 4, 6, 8, 10], "title": null, "domainColor": "#707070", "domainWidth": 2, "labelPadding": 5}},
               "fill": {"datum": "Phospho Akt", "type": "nominal", "scale": {"domain": ["Phospho Akt", "Total Protein"], "range": ["#84BC00", "#BEE9F6"]}, "legend": {"title": "iPSCs", "orient": "none", "legendX": 21, "legendY": 28, "rowPadding": 10, "symbolType": "square", "symbolSize": 225, "symbolStrokeWidth": 1.5}}
             }},
            {"mark": {"type": "line", "interpolate": "linear", "strokeWidth": 2.8, "strokeJoin": "round"},
             "encoding": {
               "x": {"field": "mig", "type": "quantitative", "scale": {"domain": [0, 588], "nice": false, "zero": false}, "axis": null},
               "y": {"field": "rlu", "type": "quantitative", "scale": {"domain": [-1.58, 11.38], "nice": false, "zero": false}, "axis": {"orient": "left", "values": [0, 2, 4, 6, 8, 10], "title": null, "domainColor": "#707070", "domainWidth": 2, "labelPadding": 5}},
               "stroke": {"datum": "Phospho Akt", "type": "nominal", "scale": {"domain": ["Phospho Akt", "Total Protein"], "range": ["#84BC00", "#1AADE0"]}, "legend": {"title": "iPSCs", "orient": "none", "legendX": 21, "legendY": 28, "rowPadding": 10, "symbolType": "square", "symbolSize": 225, "symbolStrokeWidth": 1.5}}
             }}
          ]
        }
      ],
      "resolve": {"scale": {"y": "independent"}}
    },
    {
      "width": 588, "height": 197,
      "layer": [
        {
          "data": {"name": "protein_meso_phospho"},
          "layer": [
            {"mark": {"type": "area", "interpolate": "monotone"},
             "encoding": {
               "x": {"field": "mig", "type": "quantitative", "scale": {"domain": [0, 588], "nice": false, "zero": false}, "axis": {"title": "MW (kDa)", "values": [77, 285, 411, 488, 561], "labelExpr": "datum.value < 150 ? '12' : datum.value < 350 ? '40' : datum.value < 450 ? '66' : datum.value < 520 ? '116' : '180'", "domainColor": "#111111", "domainWidth": 2, "labelPadding": 3, "titlePadding": 4, "titleFontSize": 12, "labelFontSize": 13}},
               "y": {"field": "rlu", "type": "quantitative", "scale": {"domain": [-1.27, 9.41], "nice": false, "zero": false}, "axis": {"orient": "right", "values": [0, 2, 4, 6, 8], "title": null, "domainColor": "#111111", "domainWidth": 1.5, "labelPadding": 6}},
               "fill": {"datum": "Total Protein", "type": "nominal", "scale": {"domain": ["Phospho Akt", "Total Protein"], "range": ["#84BC00", "#BEE9F6"]}, "legend": {"title": "Mesoderm", "orient": "none", "legendX": 21, "legendY": 22, "rowPadding": 10, "symbolType": "square", "symbolSize": 225, "symbolStrokeWidth": 1.5}}
             }},
            {"mark": {"type": "line", "interpolate": "monotone", "strokeWidth": 1.5},
             "encoding": {
               "x": {"field": "mig", "type": "quantitative", "scale": {"domain": [0, 588], "nice": false, "zero": false}, "axis": {"title": "MW (kDa)", "values": [77, 285, 411, 488, 561], "labelExpr": "datum.value < 150 ? '12' : datum.value < 350 ? '40' : datum.value < 450 ? '66' : datum.value < 520 ? '116' : '180'", "domainColor": "#111111", "domainWidth": 2, "labelPadding": 3, "titlePadding": 4, "titleFontSize": 12, "labelFontSize": 13}},
               "y": {"field": "rlu", "type": "quantitative", "scale": {"domain": [-1.27, 9.41], "nice": false, "zero": false}, "axis": {"orient": "right", "values": [0, 2, 4, 6, 8], "title": null, "domainColor": "#111111", "domainWidth": 1.5, "labelPadding": 6}},
               "stroke": {"datum": "Total Protein", "type": "nominal", "scale": {"domain": ["Phospho Akt", "Total Protein"], "range": ["#84BC00", "#1AADE0"]}, "legend": {"title": "Mesoderm", "orient": "none", "legendX": 21, "legendY": 22, "rowPadding": 10, "symbolType": "square", "symbolSize": 225, "symbolStrokeWidth": 1.5}}
             }}
          ]
        },
        {
          "data": {"name": "pakt_meso"},
          "layer": [
            {"mark": {"type": "line", "interpolate": "linear", "strokeWidth": 2.8, "strokeJoin": "round"},
             "encoding": {
               "x": {"field": "mig", "type": "quantitative", "scale": {"domain": [0, 588], "nice": false, "zero": false}, "axis": {"title": "MW (kDa)", "values": [77, 285, 411, 488, 561], "labelExpr": "datum.value < 150 ? '12' : datum.value < 350 ? '40' : datum.value < 450 ? '66' : datum.value < 520 ? '116' : '180'", "domainColor": "#111111", "domainWidth": 2, "labelPadding": 3, "titlePadding": 4, "titleFontSize": 12, "labelFontSize": 13}},
               "y": {"field": "rlu", "type": "quantitative", "scale": {"domain": [-1.55, 11.41], "nice": false, "zero": false}, "axis": {"orient": "left", "values": [0, 2, 4, 6, 8, 10], "title": null, "domainColor": "#707070", "domainWidth": 2, "labelPadding": 5}},
               "stroke": {"datum": "Phospho Akt", "type": "nominal", "scale": {"domain": ["Phospho Akt", "Total Protein"], "range": ["#84BC00", "#1AADE0"]}, "legend": {"title": "Mesoderm", "orient": "none", "legendX": 21, "legendY": 22, "rowPadding": 10, "symbolType": "square", "symbolSize": 225, "symbolStrokeWidth": 1.5}}
             }}
          ]
        }
      ],
      "resolve": {"scale": {"y": "independent"}}
    }
  ]
}
